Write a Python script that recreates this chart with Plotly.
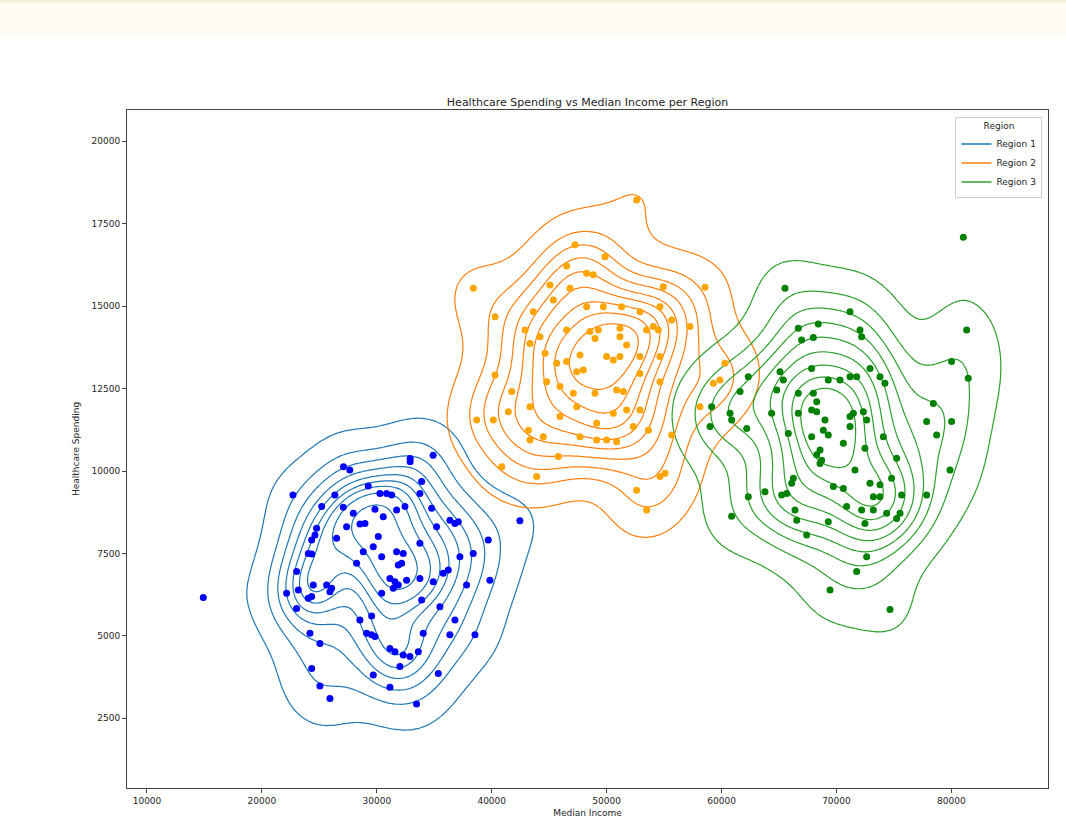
import numpy as np
import plotly.graph_objects as go

# Median income / healthcare spending samples for each region
region1_income = [14900, 22700, 27100, 27650, 32900, 32900, 34900, 26350, 29250, 30270,
                  30850, 31290, 33900, 33750, 25200, 27080, 29840, 30560, 31720, 32450,
                  34770, 36360, 36800, 37090, 35200, 42450, 24760, 24620, 24330, 27370,
                  28530, 28970, 27950, 26500, 30130, 29690, 28820, 28240, 30420, 31720,
                  32300, 32160, 31870, 33750, 33750, 31140, 31580, 31870, 31430, 32590,
                  34910, 35780, 36220, 37230, 38390, 39700, 24040, 24330, 23020, 22150,
                  23170, 24470, 25630, 26070, 25920, 24040, 24330, 23020, 30420, 33900,
                  35490, 37810, 39840, 28530, 29550, 29110, 29550, 29840, 24180, 25050,
                  34040, 36360, 36800, 38540, 31140, 31580, 32300, 32880, 33610, 32010,
                  24330, 29690, 35350, 25050, 31140, 25920, 33460]
region1_spending = [6160, 9270, 10130, 10030, 10380, 10280, 10480, 9270, 9545, 9320,
                    9320, 9270, 9680, 9320, 8920, 8900, 8840, 8610, 8820, 8920,
                    8870, 8510, 8410, 8460, 8310, 8490, 8260, 8060, 7910, 8310,
                    8390, 8410, 8720, 7960, 8010, 7700, 7550, 7200, 7400, 7550,
                    7500, 7200, 7150, 7810, 6740, 6740, 6640, 6540, 6440, 6690,
                    6640, 6900, 7000, 7400, 7500, 7910, 7500, 7480, 6950, 6290,
                    6390, 6540, 6540, 6440, 6340, 6140, 6190, 5830, 6290, 6090,
                    5880, 6540, 6690, 5480, 5600, 5080, 5030, 4980, 5080, 4770,
                    5080, 5030, 5480, 5030, 4620, 4520, 4420, 4370, 4520, 4070,
                    4010, 3810, 3860, 3480, 3440, 3100, 2930]

region2_income = [52610, 38400, 47250, 49860, 46520, 48260, 48840, 45070, 46810, 54930,
                  58560, 40290, 43620, 45360, 48260, 49710, 51300, 52900, 54640, 55660,
                  57250, 42900, 43330, 44200, 46520, 48550, 49280, 48990, 51160, 51160,
                  53480, 54060, 54500, 44640, 45650, 46520, 47390, 47970, 47680, 50000,
                  50580, 51160, 51740, 52900, 54640, 40290, 41740, 44780, 45940, 47100,
                  48990, 50870, 51450, 52900, 54640, 41450, 43330, 45940, 47390, 49130,
                  50580, 51740, 52900, 38690, 40140, 43190, 44490, 43330, 47680, 49130,
                  50000, 50870, 52320, 53630, 55660, 45800, 40870, 43910, 54640, 55080,
                  52610, 53480, 58120, 59280, 59860, 60300]
region2_spending = [18220, 15540, 16860, 16500, 16220, 16000, 15950, 15640, 15540, 15590,
                    15570, 14680, 14830, 15190, 14980, 14980, 14980, 14830, 14980, 14580,
                    14380, 14280, 13870, 14070, 14280, 14230, 14280, 14020, 14330, 14070,
                    14280, 14380, 14280, 13570, 13270, 13320, 13010, 13060, 13520, 13470,
                    13370, 13470, 13820, 13470, 13470, 12910, 12410, 12710, 12560, 12360,
                    12360, 12460, 12410, 12960, 12710, 11800, 11950, 11650, 11950, 11450,
                    11750, 11850, 11850, 11550, 11550, 11240, 11040, 10940, 11040, 10940,
                    10940, 10890, 11350, 11240, 11090, 10440, 10130, 9830, 9830, 9930,
                    9420, 8820, 11950, 12660, 12760, 13270]

region3_income = [81040, 65520, 71180, 66680, 68420, 66970, 67990, 72050, 72190, 81330,
                  80020, 81470, 67840, 65090, 65380, 69290, 70310, 71180, 71760, 72920,
                  73790, 74220, 62330, 61610, 64800, 66680, 67990, 68280, 67840, 68280,
                  66680, 64360, 59140, 60740, 60880, 59000, 62190, 69000, 68860, 69290,
                  71180, 71470, 71180, 72340, 72630, 65810, 67840, 70600, 68570, 68280,
                  68710, 68570, 72480, 74080, 75240, 78430, 77850, 80020, 78720, 79880,
                  71610, 74800, 66250, 66100, 65670, 65230, 69730, 70600, 72920, 73790,
                  73210, 73790, 63780, 62330, 77850, 75670, 75530, 75240, 66390, 66540,
                  70890, 72190, 73210, 69290, 72480, 74370, 60880, 67410, 72630, 71760,
                  69440, 74660]
region3_spending = [17090, 15540, 14830, 14330, 14460, 13970, 14050, 14280, 14070, 14280,
                    13320, 12810, 13110, 13010, 12760, 12760, 12760, 12860, 12860, 13110,
                    12860, 12660, 12860, 12410, 12460, 12360, 12360, 12100, 11850, 11800,
                    11750, 11750, 11950, 11750, 11550, 11350, 11290, 11550, 11240, 11090,
                    11650, 11750, 11350, 11800, 11550, 11140, 11040, 10840, 10640, 10490,
                    10330, 10230, 10690, 11040, 10390, 12050, 11500, 11500, 11090, 10030,
                    10030, 9780, 9780, 9630, 9320, 9270, 9530, 9470, 9630, 9580,
                    9220, 9220, 9370, 9220, 9270, 9270, 8720, 8560, 8820, 8510,
                    8920, 8820, 8820, 8460, 8410, 8720, 8630, 8060, 7400, 6950,
                    6390, 5800]

region_names = ["Region 1", "Region 2", "Region 3"]
line_colors = ["#1f77b4", "#ff7f0e", "#2ca02c"]
point_colors = ["blue", "orange", "green"]

x_ticks = [10000, 20000, 30000, 40000, 50000, 60000, 70000, 80000]
y_ticks = [2500, 5000, 7500, 10000, 12500, 15000, 17500, 20000]

FONT = "DejaVu Sans"
TEXT = "#262626"


def kde_isoprop(xs, ys, gridsize=200, cut=3):
    """Gaussian KDE (Scott bandwidth) mapped to the share of mass lying below each density."""
    data = np.vstack([xs, ys]).astype(float)
    n = data.shape[1]
    factor = n ** (-1.0 / 6.0)
    cov = np.cov(data) * factor ** 2
    bw = np.sqrt(np.diag(cov))
    gx = np.linspace(data[0].min() - cut * bw[0], data[0].max() + cut * bw[0], gridsize)
    gy = np.linspace(data[1].min() - cut * bw[1], data[1].max() + cut * bw[1], gridsize)
    inv = np.linalg.inv(cov)
    X, Y = np.meshgrid(gx, gy)
    dx = X[..., None] - data[0]
    dy = Y[..., None] - data[1]
    q = inv[0, 0] * dx ** 2 + 2 * inv[0, 1] * dx * dy + inv[1, 1] * dy ** 2
    dens = np.exp(-0.5 * q).sum(-1)
    flat = dens.ravel()
    order = np.argsort(flat)
    cum = np.cumsum(flat[order])
    cum /= cum[-1]
    prop = np.empty_like(flat)
    prop[order] = cum
    return gx, gy, prop.reshape(dens.shape)


regions = [
    (region1_income, region1_spending),
    (region2_income, region2_spending),
    (region3_income, region3_spending),
]

fig = go.Figure()

levels = np.linspace(0.05, 1.0, 10)
for (inc, spend), lc in zip(regions, line_colors):
    gx, gy, z = kde_isoprop(inc, spend)
    fig.add_trace(go.Contour(
        x=gx, y=gy, z=z,
        contours=dict(start=levels[0], end=levels[-2] + 1e-6,
                      size=levels[1] - levels[0], coloring="lines"),
        colorscale=[[0, lc], [1, lc]],
        line=dict(width=1.2),
        showscale=False, showlegend=False, hoverinfo="skip",
    ))

for (inc, spend), pc in zip(regions, point_colors):
    fig.add_trace(go.Scatter(
        x=inc, y=spend, mode="markers",
        marker=dict(color=pc, size=7, line=dict(width=0)),
        showlegend=False,
    ))

for name, lc in zip(region_names, line_colors):
    fig.add_trace(go.Scatter(
        x=[None], y=[None], mode="lines", name=name,
        line=dict(color=lc, width=1.5),
    ))

axis_common = dict(
    showline=True, mirror=True, linecolor="#444", linewidth=1,
    ticks="outside", ticklen=4, tickcolor="#444", tickwidth=1,
    showgrid=False, zeroline=False, tickformat="d",
    tickfont=dict(family=FONT, size=9, color=TEXT),
)

fig.update_layout(
    width=1066, height=830,
    margin=dict(l=127, r=18, t=110, b=42),
    paper_bgcolor="white", plot_bgcolor="white",
    font=dict(family=FONT, color=TEXT),
    title=dict(text="Healthcare Spending vs Median Income per Region",
               x=0.5, xref="paper", y=1, yref="paper",
               xanchor="center", yanchor="bottom", pad=dict(b=4),
               font=dict(family=FONT, size=11, color=TEXT)),
    xaxis=dict(axis_common, range=[8260, 88410], tickvals=x_ticks,
               title=dict(text="Median Income", standoff=4,
                          font=dict(family=FONT, size=9, color=TEXT))),
    yaxis=dict(axis_common, range=[385, 20950], tickvals=y_ticks,
               title=dict(text="Healthcare Spending", standoff=10,
                          font=dict(family=FONT, size=9, color=TEXT))),
    legend=dict(
        x=0.994, y=0.99, xanchor="right", yanchor="top",
        bgcolor="rgba(255,255,255,0.85)", bordercolor="#d0d0d0", borderwidth=1,
        font=dict(family=FONT, size=9, color=TEXT),
        title=dict(text="Region", side="top center",
                   font=dict(family=FONT, size=9, color=TEXT)),
        itemwidth=30, tracegroupgap=0,
    ),
    shapes=[
        dict(type="rect", xref="paper", yref="paper",
             x0=-0.2, x1=1.1, y0=(788 - 35) / 678, y1=(788 - 3) / 678,
             fillcolor="#fdfbf4", line=dict(width=0), layer="below"),
        dict(type="rect", xref="paper", yref="paper",
             x0=-0.2, x1=1.1, y0=(788 - 3) / 678, y1=788 / 678 + 0.01,
             fillcolor="#f6efd9", line=dict(width=0), layer="below"),
    ],
)

fig.write_html("out.html")
